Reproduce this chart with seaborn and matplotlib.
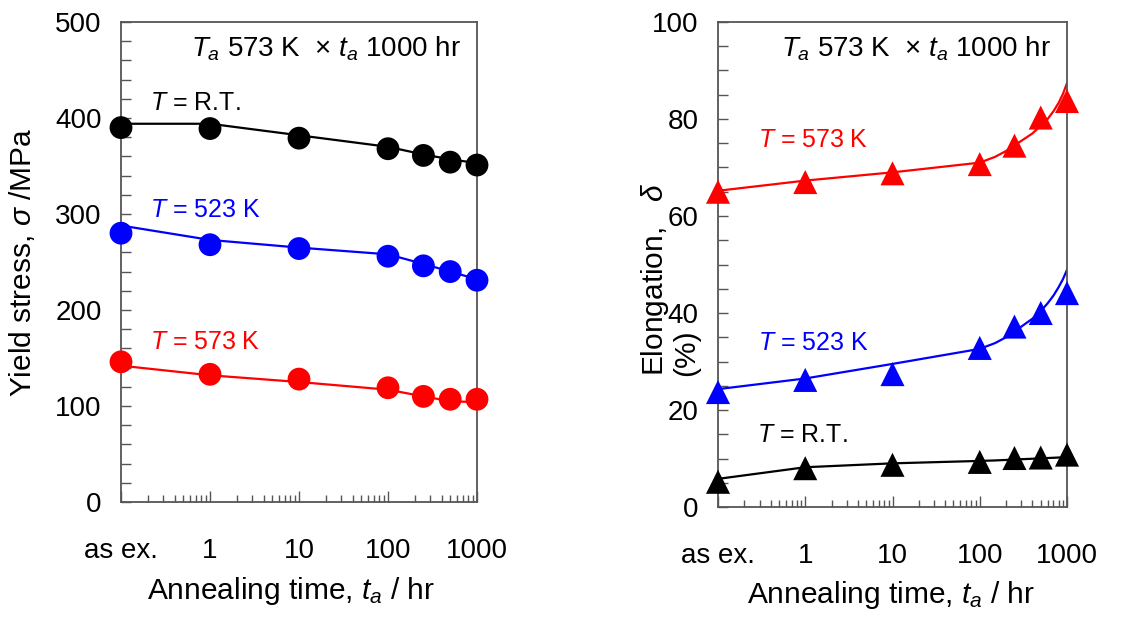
import numpy as np
import pandas as pd
import matplotlib
matplotlib.use("Agg")
import matplotlib.pyplot as plt
import seaborn as sns
from matplotlib.ticker import FixedLocator, LogLocator, NullFormatter, MultipleLocator, FuncFormatter

# ---------------- data ----------------
times = [0.1, 1, 10, 100, 250, 500, 1000]          # 0.1 plotted as "as ex."
xtick_vals = [0.1, 1, 10, 100, 1000]
xtick_labels = ["as ex.", "1", "10", "100", "1000"]

# Yield stress (MPa)
ys_rt = [390, 389, 379, 368, 361, 354, 351]
ys_523 = [280, 268, 264, 256, 246, 240, 231]
ys_573 = [146, 133, 128, 119, 110, 107, 107]

# Yield stress fitted lines
ys_fit_t = [0.1, 1, 10, 100, 250, 500, 1000]
ys_fit_rt = [394, 394, 382, 370, 362, 357, 353]
ys_fit_523 = [288, 273, 265, 258, 248, 240, 232]
ys_fit_573 = [142, 132, 125, 117, 110, 105, 104]

# Elongation (%)
el_rt = [5.2, 8.0, 8.7, 9.3, 10.1, 10.2, 10.8]
el_523 = [23.7, 26.2, 27.4, 32.8, 37.2, 40.0, 44.1]
el_573 = [65.0, 67.0, 68.8, 70.7, 74.5, 80.3, 83.7]

# Elongation fitted curves
el_fit_t = [0.1, 1, 10, 100, 150, 200, 250, 300, 400, 500, 600, 700, 800, 900, 1000]
el_fit_rt = [5.8, 8.2, 9.0, 9.5, 9.6, 9.7, 9.8, 9.85, 9.95, 10.0, 10.1, 10.15, 10.2, 10.25, 10.3]
el_fit_523 = [24.3, 26.5, 29.5, 32.6, 33.8, 35.0, 36.2, 37.2, 38.8, 40.4, 42.0, 43.6, 45.3, 47.0, 48.9]
el_fit_573 = [65.2, 67.3, 69.0, 71.0, 72.2, 73.4, 74.6, 75.5, 77.0, 78.6, 80.0, 81.6, 83.3, 85.2, 87.4]

series_names = ["R.T.", "523 K", "573 K"]
colors = {"R.T.": "#000000", "523 K": "#0000FF", "573 K": "#FF0000"}

# ---------------- style ----------------
sns.set_theme(style="ticks")
plt.rcParams["font.family"] = ["Liberation Sans", "DejaVu Sans"]
plt.rcParams["mathtext.fontset"] = "custom"
plt.rcParams["mathtext.rm"] = "Liberation Sans"
plt.rcParams["mathtext.it"] = "Liberation Sans:italic"
plt.rcParams["mathtext.bf"] = "Liberation Sans:bold"
plt.rcParams["text.color"] = "black"
plt.rcParams["axes.labelcolor"] = "black"

SPINE = "#555555"
FS = 20
LFS = 21.5

fig = plt.figure(figsize=(11.38, 6.18), dpi=100)
axL = fig.add_axes([121/1138, 1-502/618, 356/1138, 480/618])
axR = fig.add_axes([718/1138, 1-507/618, 349/1138, 485/618])

def long_df(t, series):
    rows = []
    for name, vals in zip(series_names, series):
        for tt, v in zip(t, vals):
            rows.append({"t": tt, "v": v, "T": name})
    return pd.DataFrame(rows)

ys_pts = long_df(times, [ys_rt, ys_523, ys_573])
ys_fit = long_df(ys_fit_t, [ys_fit_rt, ys_fit_523, ys_fit_573])
el_pts = long_df(times, [el_rt, el_523, el_573])
el_fit = long_df(el_fit_t, [el_fit_rt, el_fit_523, el_fit_573])

# left panel
sns.lineplot(data=ys_fit, x="t", y="v", hue="T", palette=colors, ax=axL,
             linewidth=1.6, legend=False, sort=True)
sns.scatterplot(data=ys_pts, x="t", y="v", hue="T", palette=colors, ax=axL,
                marker="o", s=270, edgecolor="none", legend=False, zorder=3, clip_on=False)
# right panel
sns.lineplot(data=el_fit, x="t", y="v", hue="T", palette=colors, ax=axR,
             linewidth=1.6, legend=False, sort=True)
sns.scatterplot(data=el_pts, x="t", y="v", hue="T", palette=colors, ax=axR,
                marker="^", s=300, edgecolor="none", legend=False, zorder=3, clip_on=False)

for ax in (axL, axR):
    ax.set_xscale("log")
    ax.set_xlim(0.1, 1000)
    ax.xaxis.set_major_locator(FixedLocator(xtick_vals))
    ax.set_xticklabels(xtick_labels)
    ax.xaxis.set_minor_locator(LogLocator(base=10, subs=np.arange(2, 10)))
    ax.xaxis.set_minor_formatter(NullFormatter())
    for s in ax.spines.values():
        s.set_visible(True)
        s.set_color(SPINE)
        s.set_linewidth(1.3)
    ax.tick_params(axis="both", which="both", direction="in", color=SPINE,
                   top=False, right=False, labelsize=FS, labelcolor="black")
    ax.tick_params(axis="x", which="major", length=8, width=1.0, pad=26)
    ax.tick_params(axis="x", which="minor", length=5, width=1.0)
    ax.tick_params(axis="y", which="major", length=7, width=1.0, pad=14)
    ax.set_xlabel("Annealing time, $\\mathit{t_a}$ / hr", fontsize=LFS)
    ax.grid(False)

axL.set_ylim(0, 500)
axL.yaxis.set_major_locator(MultipleLocator(20))
axL.yaxis.set_major_formatter(FuncFormatter(lambda v, p: f"{int(round(v))}" if round(v) % 100 == 0 else ""))
axL.set_ylabel("Yield stress, $\\mathit{\\sigma}$ /MPa", fontsize=LFS)
axL.yaxis.set_label_coords(-0.235, 0.5)
axL.xaxis.set_label_coords(0.477, -0.152)

axR.set_ylim(0, 100)
axR.yaxis.set_major_locator(MultipleLocator(5))
axR.yaxis.set_major_formatter(FuncFormatter(lambda v, p: f"{int(round(v))}" if round(v) % 20 == 0 else ""))
axR.set_ylabel("Elongation,   $\\mathit{\\delta}$\n(%)", fontsize=LFS, multialignment="left",
               linespacing=1.05)
axR.yaxis.set_label_coords(-0.05, 0.47)
axR.xaxis.set_label_coords(0.497, -0.148)

# annotations
TS = 18
ATS = 20
for ax in (axL, axR):
    ax.text(0.955, 0.945, "$\\mathit{T_a}$ 573 K  × $\\mathit{t_a}$ 1000 hr",
            transform=ax.transAxes, ha="right", va="center", fontsize=ATS, color="black")

lab = {"R.T.": "$\\mathit{T}$ = R.T.", "523 K": "$\\mathit{T}$ = 523 K", "573 K": "$\\mathit{T}$ = 573 K"}
axL.text(0.21, 416, lab["R.T."], color=colors["R.T."], fontsize=TS, va="center", ha="left")
axL.text(0.21, 304, lab["523 K"], color=colors["523 K"], fontsize=TS, va="center", ha="left")
axL.text(0.21, 167, lab["573 K"], color=colors["573 K"], fontsize=TS, va="center", ha="left")
axR.text(0.285, 75.7, lab["573 K"], color=colors["573 K"], fontsize=TS, va="center", ha="left")
axR.text(0.285, 33.8, lab["523 K"], color=colors["523 K"], fontsize=TS, va="center", ha="left")
axR.text(0.28, 14.8, lab["R.T."], color=colors["R.T."], fontsize=TS, va="center", ha="left")

fig.savefig("out.png", dpi=100)
